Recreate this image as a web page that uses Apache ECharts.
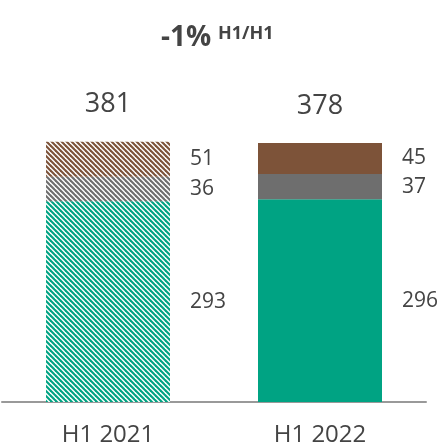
<!DOCTYPE html>
<html><head><meta charset="utf-8">
<script src="https://cdn.jsdelivr.net/npm/echarts@6/dist/echarts.min.js"></script>
<style>html,body{margin:0;padding:0;background:#fff}#c{width:438px;height:446px}</style>
</head><body><div id="c"></div>
<script>
const categories = ['H1 2021', 'H1 2022'];
const coreValues = [293, 296];
const grayValues = [36, 37];
const brownValues = [51, 45];
const totals = [381, 378];
const titleMain = '-1%';
const titleSup = 'H1/H1';

const GREEN = '#00A383', GRAY = '#6E6E6E', BROWN = '#7D5339';
const TXT = '#444';

function hatch(color) {
  const s = 5;
  const cv = document.createElement('canvas');
  cv.width = s; cv.height = s;
  const ctx = cv.getContext('2d');
  ctx.fillStyle = '#fff';
  ctx.fillRect(0, 0, s, s);
  ctx.strokeStyle = color;
  ctx.lineWidth = 2.1;
  for (let k = -1; k <= 1; k++) {
    ctx.beginPath();
    ctx.moveTo(k * s - 1, -1);
    ctx.lineTo(k * s + s + 1, s + 1);
    ctx.stroke();
  }
  return { image: cv, repeat: 'repeat' };
}

function seg(values, color, name) {
  return {
    name, type: 'bar', stack: 'a', barWidth: 124,
    data: values.map((v, i) => ({
      value: v,
      itemStyle: { color: i === 0 ? hatch(color) : color }
    })),
    label: {
      show: true, position: 'right', distance: 20,
      fontSize: 21, color: TXT, fontFamily: 'Open Sans'
    }
  };
}

const chart = echarts.init(document.getElementById('c'));
chart.setOption({
  animation: false,
  title: [
    {
      text: titleMain, left: 161, top: 24, padding: 0,
      textStyle: { fontSize: 28, fontWeight: 'bold', color: TXT, fontFamily: 'Open Sans', lineHeight: 28 }
    },
    {
      text: titleSup, left: 218, top: 25, padding: 0,
      textStyle: { fontSize: 18, fontWeight: 'bold', color: TXT, fontFamily: 'Open Sans', lineHeight: 18 }
    }
  ],
  grid: { left: 2, right: 12, top: 128, bottom: 44, containLabel: false, outerBoundsMode: 'none' },
  xAxis: {
    type: 'category', data: categories,
    axisLine: { lineStyle: { color: '#999', width: 2 } },
    axisTick: { show: false },
    axisLabel: { fontSize: 24, color: TXT, fontFamily: 'Open Sans', margin: 21 }
  },
  yAxis: { type: 'value', min: 0, max: 400, show: false, splitLine: { show: false } },
  series: [
    seg(coreValues, GREEN, 'core'),
    seg(grayValues, GRAY, 'gray'),
    seg(brownValues, BROWN, 'brown'),
    {
      type: 'scatter', symbolSize: 0, data: totals,
      itemStyle: { opacity: 1 },
      label: {
        show: true, position: 'top', distance: 23, opacity: 1,
        fontSize: 27, color: TXT, fontFamily: 'Open Sans'
      }
    }
  ]
});
</script></body></html>
